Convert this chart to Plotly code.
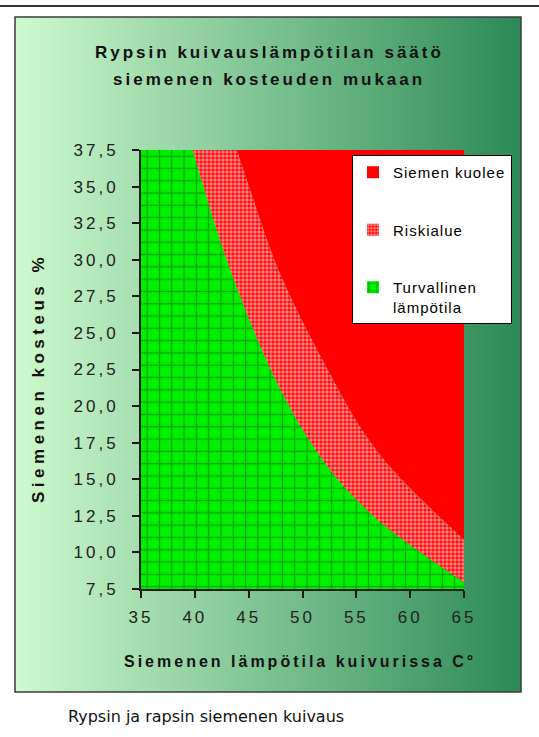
import base64
import struct
import zlib
import plotly.graph_objects as go

# ---------------- data ----------------
temps = [35, 37.5, 40, 42.5, 45, 47.5, 50, 52.5, 55, 57.5, 60, 62.5, 65]
# upper moisture limit of the safe zone (green)
turvallinen_raja = [49.5, 43.5, 37.0, 31.0, 26.0, 21.8, 18.4, 15.7, 13.6, 11.9, 10.5, 9.2, 7.95]
# moisture above which the seed dies (top of the risk zone)
kuolee_raja = [57.0, 51.5, 46.0, 40.6, 35.1, 29.8, 25.8, 22.3, 19.0, 16.4, 14.4, 12.6, 10.87]
# top of the chart (axis maximum)
ylaraja = [37.5, 37.5, 37.5, 37.5, 37.5, 37.5, 37.5, 37.5, 37.5, 37.5, 37.5, 37.5, 37.5]

series_names = ["Siemen kuolee", "Riskialue", "Turvallinen<br>lämpötila"]

x_tick_vals = [35, 40, 45, 50, 55, 60, 65]
x_tick_labels = ["35", "40", "45", "50", "55", "60", "65"]
y_tick_vals = [7.5, 10, 12.5, 15, 17.5, 20, 22.5, 25, 27.5, 30, 32.5, 35, 37.5]
y_tick_labels = ["7,5", "10,0", "12,5", "15,0", "17,5", "20,0", "22,5", "25,0",
                 "27,5", "30,0", "32,5", "35,0", "37,5"]

title_line1 = "Rypsin kuivauslämpötilan säätö"
title_line2 = "siemenen kosteuden mukaan"
x_title = "Siemenen lämpötila kuivurissa C°"
y_title = "Siemenen kosteus %"
caption = "Rypsin ja rapsin siemenen kuivaus"

# ---------------- layout geometry (pixels) ----------------
W, H = 539, 737
L, R, T, B = 141, 75, 150, 148
PW, PH = W - L - R, H - T - B


def px(xp):
    return (xp - L) / PW


def py(yp):
    return (H - B - yp) / PH


def spaced(text, ls, bold=False):
    inner = f"<b>{text}</b>" if bold else text
    return f'<span style="letter-spacing:{ls}px">{inner}</span>'


def gradient_png(c0, c1, n=256):
    row = bytearray([0])
    for i in range(n):
        t = i / (n - 1)
        row += bytes(int(round(c0[k] + (c1[k] - c0[k]) * t)) for k in range(3))

    def chunk(tag, data):
        return (struct.pack(">I", len(data)) + tag + data
                + struct.pack(">I", zlib.crc32(tag + data) & 0xFFFFFFFF))

    png = (b"\x89PNG\r\n\x1a\n"
           + chunk(b"IHDR", struct.pack(">IIBBBBB", n, 1, 8, 2, 0, 0, 0))
           + chunk(b"IDAT", zlib.compress(bytes(row)))
           + chunk(b"IEND", b""))
    return "data:image/png;base64," + base64.b64encode(png).decode()


FONT = "Liberation Sans, Arial, sans-serif"
RED = "#ff0000"
GREEN = "#00f000"
GRID = "#0b5e0b"

green_pattern = dict(shape="+", bgcolor=GREEN, fgcolor=GRID, size=12.3, solidity=0.2)
risk_pattern = dict(shape=".", bgcolor=RED, fgcolor="#ffffff", size=4, solidity=0.62)

fig = go.Figure()

# areas (stacked bottom to top)
fig.add_trace(go.Scatter(x=temps, y=turvallinen_raja, mode="none", fill="tozeroy",
                         fillcolor=GREEN, fillpattern=green_pattern,
                         line=dict(shape="spline", smoothing=0.8, width=0),
                         showlegend=False, hoverinfo="skip"))
fig.add_trace(go.Scatter(x=temps, y=kuolee_raja, mode="none", fill="tonexty",
                         fillcolor=RED, fillpattern=risk_pattern,
                         line=dict(shape="spline", smoothing=0.8, width=0),
                         showlegend=False, hoverinfo="skip"))
fig.add_trace(go.Scatter(x=temps, y=ylaraja, mode="none", fill="tonexty",
                         fillcolor=RED, line=dict(width=0),
                         showlegend=False, hoverinfo="skip"))

# legend entries (square swatches)
legend_styles = [
    dict(color=RED),
    dict(color=RED, pattern=risk_pattern),
    dict(color=GREEN, pattern=dict(green_pattern, size=10)),
]
for i, (name, mk) in enumerate(zip(series_names, legend_styles)):
    fig.add_trace(go.Bar(x=[None], y=[None], name=spaced(name, 1),
                         marker=dict(line=dict(width=0), **mk),
                         legendgroup=f"g{i}", showlegend=True, hoverinfo="skip"))

fig.update_layout(
    width=W, height=H,
    margin=dict(l=L, r=R, t=T, b=B, pad=0),
    paper_bgcolor="#ffffff",
    plot_bgcolor="rgba(0,0,0,0)",
    font=dict(family=FONT, size=17, color="#1a1a1a"),
    showlegend=True,
    legend=dict(
        x=px(352), y=py(155), xanchor="left", yanchor="top",
        bgcolor="#ffffff", bordercolor="#000000", borderwidth=1,
        font=dict(family=FONT, size=15, color="#000000"),
        traceorder="grouped", tracegroupgap=35, valign="top",
        itemclick=False, itemdoubleclick=False,
    ),
    xaxis=dict(
        range=[35, 65], tickmode="array", tickvals=x_tick_vals,
        ticktext=[spaced(t, 3) for t in x_tick_labels],
        ticks="outside", ticklen=7, tickwidth=2, tickcolor="#1a1a1a",
        showline=True, linecolor="#1a1a1a", linewidth=2, mirror=False,
        showgrid=False, zeroline=False, ticklabelstandoff=5,
        tickfont=dict(family=FONT, size=17, color="#222222"),
    ),
    yaxis=dict(
        range=[7.5, 37.5], tickmode="array", tickvals=y_tick_vals,
        ticktext=[spaced(t, 3) for t in y_tick_labels],
        ticks="outside", ticklen=7, tickwidth=2, tickcolor="#1a1a1a",
        showline=True, linecolor="#1a1a1a", linewidth=2, mirror=False,
        showgrid=False, zeroline=False, ticklabelstandoff=10,
        tickfont=dict(family=FONT, size=17, color="#222222"),
    ),
    images=[dict(
        source=gradient_png((206, 250, 206), (44, 138, 86)),
        xref="paper", yref="paper", x=px(15), y=py(17),
        sizex=px(521) - px(15), sizey=py(17) - py(692),
        xanchor="left", yanchor="top", sizing="stretch", layer="below",
    )],
    shapes=[
        dict(type="rect", xref="paper", yref="paper",
             x0=px(15), x1=px(521), y0=py(692), y1=py(17),
             line=dict(color="#3c3c3c", width=1.5), fillcolor="rgba(0,0,0,0)",
             layer="above"),
        dict(type="line", xref="paper", yref="paper",
             x0=px(0), x1=px(539), y0=py(6), y1=py(6),
             line=dict(color="#333333", width=2)),
    ],
    annotations=[
        dict(text=spaced(title_line1, 3, bold=True), xref="paper", yref="paper",
             x=px(269), y=py(52), showarrow=False, xanchor="center", yanchor="middle",
             font=dict(family=FONT, size=17, color="#111111")),
        dict(text=spaced(title_line2, 3, bold=True), xref="paper", yref="paper",
             x=px(269), y=py(79), showarrow=False, xanchor="center", yanchor="middle",
             font=dict(family=FONT, size=17, color="#111111")),
        dict(text=spaced(x_title, 3, bold=True), xref="paper", yref="paper",
             x=px(300), y=py(661), showarrow=False, xanchor="center", yanchor="middle",
             font=dict(family=FONT, size=16, color="#111111")),
        dict(text=spaced(y_title, 4.5, bold=True), xref="paper", yref="paper",
             x=px(38), y=py(378), showarrow=False, xanchor="center", yanchor="middle",
             textangle=-90, font=dict(family=FONT, size=17, color="#111111")),
        dict(text=caption, xref="paper", yref="paper",
             x=px(66), y=py(716), showarrow=False, xanchor="left", yanchor="middle",
             font=dict(family="DejaVu Sans, Verdana, sans-serif", size=16, color="#111111")),
    ],
)

fig.write_html("out.html", config={"displayModeBar": False},
               post_script="document.body.style.margin='0';")
